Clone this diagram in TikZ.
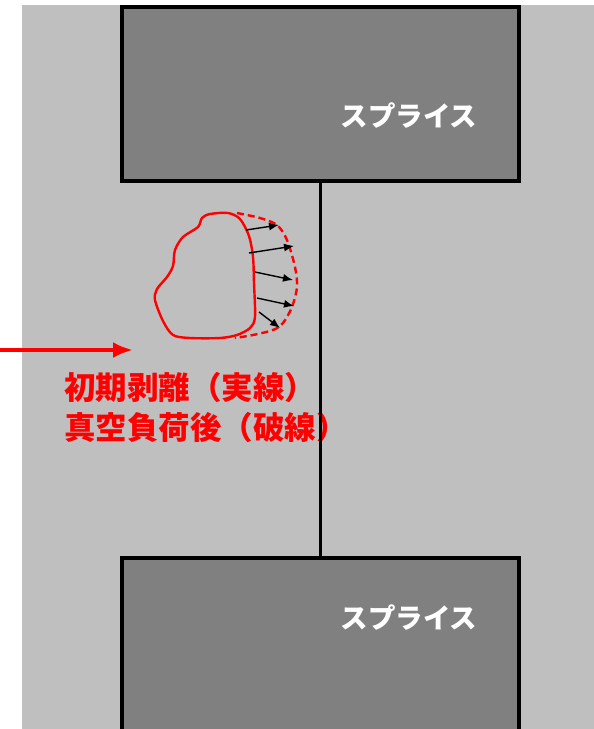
\documentclass[tikz,border=0pt]{standalone}
\usepackage{fontspec}
\newfontfamily\cjk{Noto Sans CJK JP}
\usetikzlibrary{arrows.meta,positioning}

\begin{document}
\begin{tikzpicture}[
    x=1pt, y=-1pt,
    >=Latex,
    splice/.style={draw=black, fill=black!50, line width=4pt, minimum width=397pt, minimum height=174pt, inner sep=0pt},
    splicebottom/.style={splice, minimum height=200pt},
    splicelabel/.style={text=white, font=\cjk\bfseries\fontsize{27.5}{32}\selectfont, inner sep=0pt},
    redlabel/.style={text=red, font=\cjk\bfseries\fontsize{31.5}{40}\selectfont, align=left, inner sep=0pt},
    peel/.style={red, line width=2.4pt},
    push/.style={->, black, line width=1.4pt, >={Latex[length=10pt,width=8pt]}}
]
\useasboundingbox (0,0) rectangle (594,729);
\fill[black!25] (22,5) rectangle (594,729);
\node[splice] (top) at (320.5,94) {};
\node[splicebottom] (bottom) at (320.5,658) {};
\node[splicelabel] (toplabel) at (409,116) {スプライス};
\node[splicelabel] (bottomlabel) at (409,618) {スプライス};
\node[redlabel, anchor=north west] (note) at (64,372) {初期剥離（実線）\\真空負荷後（破線）};
\draw[line width=2.4pt] (top.south) -- (bottom.north);
\draw[peel] plot[smooth cycle] coordinates {(228,213) (240,219) (249,236) (253,257) (254,283) (255,317) (250,328) (237,335) (220,338) (190,338) (173,335) (163,321) (155,300) (157,289) (167,277) (173,266) (175,250) (183,237) (198,227) (202,218) (210,214)};
\draw[peel, dash pattern=on 7pt off 4pt] plot[smooth] coordinates {(237,213) (260,218) (277,225) (287,240) (295,267) (297,287) (292,307) (283,323) (273,330) (253,335) (235,338)};
\draw[push] (246,230) -- (279,225);
\draw[push] (249,253) -- (294,246);
\draw[push] (255,272) -- (293,280);
\draw[push] (257,298) -- (294,306);
\draw[push] (259,312) -- (280,328);
\coordinate (arrowtail) at (0,350);
\coordinate (arrowtip) at (133,350);
\draw[->, red, line width=4pt, >={Latex[length=20pt,width=16pt]}] (arrowtail) -- (arrowtip);
\end{tikzpicture}
\end{document}
